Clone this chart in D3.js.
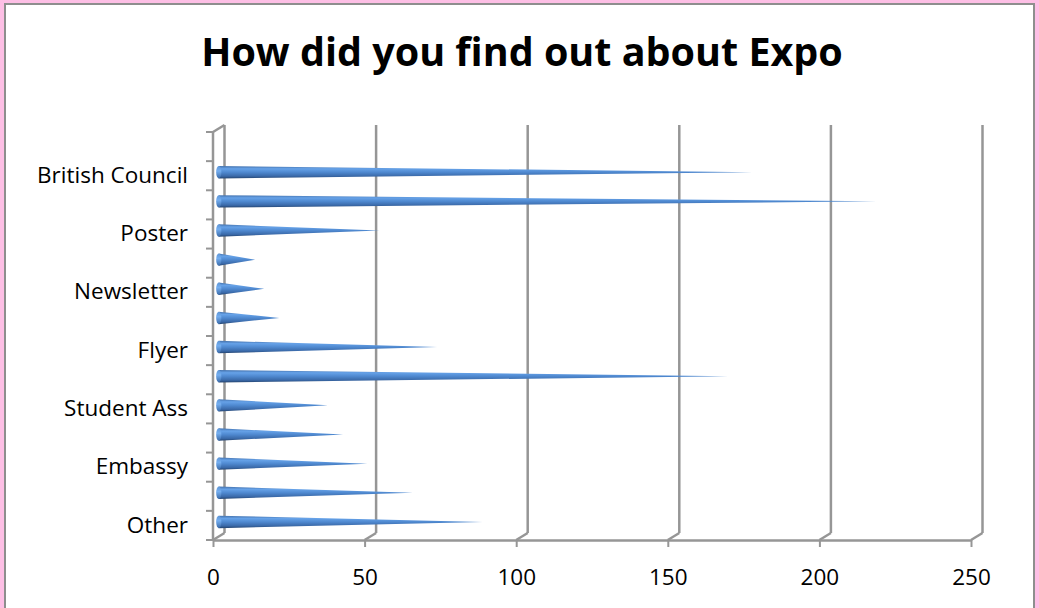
<!DOCTYPE html>
<html>
<head>
<meta charset="utf-8">
<script src="https://cdn.jsdelivr.net/npm/d3@7"></script>
<style>
  html, body { margin: 0; padding: 0; background: #fdbfe5; }
  svg { display: block; }
</style>
</head>
<body>
<svg id="chart" width="1039" height="608"></svg>
<script>
// Survey answers, listed bottom to top as they appear on the category axis.
// Only every other category name is printed on the axis.
const categories = ["Other", "", "Embassy", "", "Student Ass", "", "Flyer", "",
                    "Newsletter", "", "Poster", "", "British Council", ""];
const responses = [87, 64, 49, 41, 36, 168, 72, 20, 15, 12, 53, 217, 176, null];
const valueTicks = [0, 50, 100, 150, 200, 250];
const chartTitle = "How did you find out about Expo";

const svg = d3.select("#chart");
const W = 1039, H = 608;

// white chart panel with grey frame
svg.append("rect")
  .attr("x", 5).attr("y", 4).attr("width", 1029).attr("height", H + 10)
  .attr("fill", "#ffffff").attr("stroke", "#8e8e8e").attr("stroke-width", 2);

// 3D box: front plane and a back plane shifted up and to the right
const depthX = 11.5, depthY = -7;
const x = d3.scaleLinear().domain([0, 250]).range([213, 971]);
const y = d3.scaleBand().domain(d3.range(categories.length)).range([540, 132]);
const yTop = 132, yBottom = 540;
const gridColor = "#969696";
const gridWidth = 2.5;

const walls = svg.append("g").attr("fill", "none").attr("stroke", gridColor).attr("stroke-width", gridWidth);

// back wall gridlines
walls.selectAll("line.grid").data(valueTicks).join("line")
  .attr("class", "grid")
  .attr("x1", d => x(d) + depthX).attr("x2", d => x(d) + depthX)
  .attr("y1", yTop + depthY).attr("y2", yBottom + depthY);

// floor edges joining front ticks to the back gridlines
walls.selectAll("line.floorEdge").data(valueTicks).join("line")
  .attr("class", "floorEdge")
  .attr("x1", d => x(d)).attr("y1", yBottom)
  .attr("x2", d => x(d) + depthX).attr("y2", yBottom + depthY);

// top edge of the side wall
walls.append("line")
  .attr("x1", x(0)).attr("y1", yTop)
  .attr("x2", x(0) + depthX).attr("y2", yTop + depthY);

// value axis along the front of the floor
const xAxis = d3.axisBottom(x).tickValues(valueTicks).tickSize(7).tickPadding(22).tickSizeOuter(0);
const gx = svg.append("g").attr("transform", `translate(0,${yBottom})`).call(xAxis);
gx.select(".domain").attr("stroke", gridColor).attr("stroke-width", gridWidth);
gx.selectAll(".tick line").attr("stroke", gridColor).attr("stroke-width", 2);
gx.selectAll(".tick text")
  .attr("fill", "#000").attr("font-family", "'Open Sans', sans-serif").attr("font-size", 22.5);

// category axis on the front edge of the side wall
const yAxis = d3.axisLeft(y).tickSize(0).tickPadding(25).tickFormat(i => categories[i]);
const gy = svg.append("g").attr("transform", `translate(${x(0)},0)`).call(yAxis);
gy.select(".domain").remove();
gy.selectAll(".tick text")
  .attr("fill", "#000").attr("font-family", "'Open Sans', sans-serif").attr("font-size", 22.5);
gy.append("line")
  .attr("x1", 0).attr("x2", 0).attr("y1", yTop).attr("y2", yBottom)
  .attr("stroke", gridColor).attr("stroke-width", gridWidth);
// tick marks sit between categories
const boundaries = d3.range(categories.length + 1).map(i => yBottom - i * y.step());
gy.selectAll("line.sep").data(boundaries).join("line")
  .attr("class", "sep")
  .attr("x1", -7).attr("x2", 0).attr("y1", d => d).attr("y2", d => d)
  .attr("stroke", gridColor).attr("stroke-width", 2);

// cone shading
const defs = svg.append("defs");
const coneGrad = defs.append("linearGradient").attr("id", "coneGrad")
  .attr("x1", 0).attr("y1", 0).attr("x2", 0).attr("y2", 1);
[[0, "#4472ad"], [0.22, "#66a2e8"], [0.5, "#4f89d0"], [0.82, "#3a69a8"], [1, "#24446f"]]
  .forEach(([o, c]) => coneGrad.append("stop").attr("offset", o).attr("stop-color", c));
const baseGrad = defs.append("linearGradient").attr("id", "baseGrad")
  .attr("x1", 0).attr("y1", 0).attr("x2", 0).attr("y2", 1);
[[0, "#5d95d6"], [0.4, "#74aef0"], [1, "#3a6aa8"]]
  .forEach(([o, c]) => baseGrad.append("stop").attr("offset", o).attr("stop-color", c));

// cones sit half way into the depth of the box
const coneR = 6.2;
const coneData = responses.map((v, i) => ({ i, v })).filter(d => d.v != null);
const cones = svg.append("g").selectAll("g").data(coneData).join("g");
const cy = d => y(d.i) + y.bandwidth() / 2 + depthY / 2;
const x0 = x(0) + depthX / 2;
cones.append("path")
  .attr("d", d => {
    const c = cy(d), tip = x(d.v) + depthX / 2;
    return `M${x0},${c - coneR}L${tip},${c}L${x0},${c + coneR}Z`;
  })
  .attr("fill", "url(#coneGrad)");
cones.append("ellipse")
  .attr("cx", x0).attr("cy", cy).attr("rx", 2.6).attr("ry", coneR)
  .attr("fill", "url(#baseGrad)");

// title
svg.append("text")
  .attr("x", 522).attr("y", 66).attr("text-anchor", "middle")
  .attr("font-family", "'Open Sans', sans-serif").attr("font-weight", 700)
  .attr("font-size", 39.5).attr("fill", "#000")
  .text(chartTitle);
</script>
</body>
</html>
